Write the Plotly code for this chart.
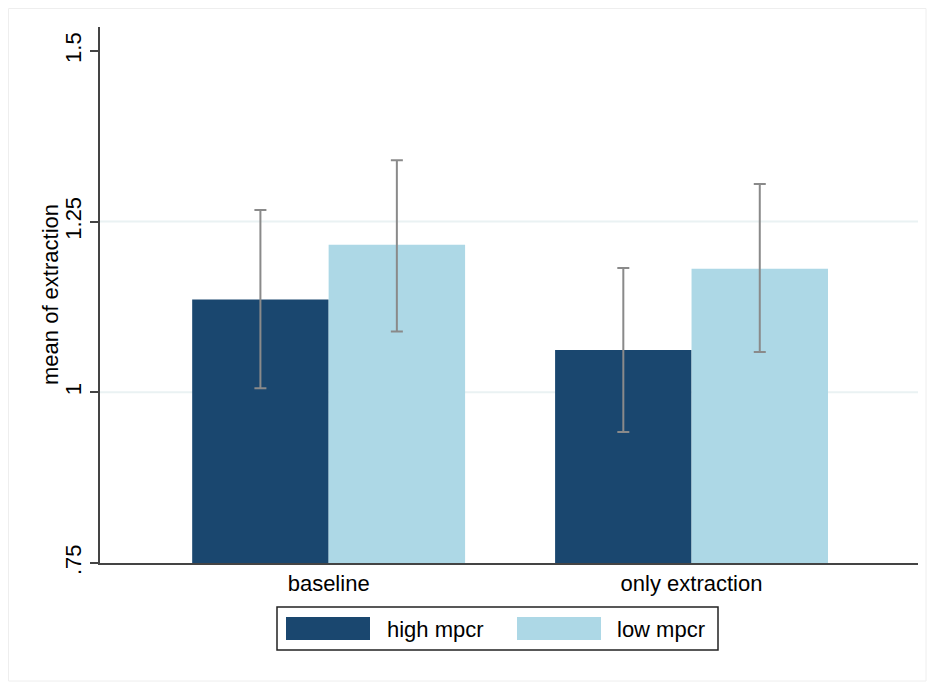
import plotly.graph_objects as go

categories = ["baseline", "only extraction"]
series_names = ["high mpcr", "low mpcr"]
high_mean = [1.136, 1.062]
high_upper = [1.267, 1.182]
high_lower = [1.006, 0.942]
low_mean = [1.216, 1.181]
low_upper = [1.340, 1.305]
low_lower = [1.089, 1.059]
y_tickvals = [0.75, 1.0, 1.25, 1.5]
y_ticktext = [".75", "1", "1.25", "1.5"]
y_title = "mean of extraction"
colors = ["#1a476f", "#add8e6"]

FONT = "Liberation Sans, Arial, sans-serif"
W, H = 935, 684
OFF = 8  # page body margin
L, R, T, B = 92, 25, 19, 129
PW, PH = W - L - R, H - T - B

def px_to_paper(x, y):
    # x, y given in page (screenshot) pixels
    return ((x - OFF) - L) / PW, ((H - B) - (y - OFF)) / PH

fig = go.Figure()
for name, m, up, lo, c in [
    (series_names[0], high_mean, high_upper, high_lower, colors[0]),
    (series_names[1], low_mean, low_upper, low_lower, colors[1]),
]:
    fig.add_trace(go.Bar(
        x=[0, 1], y=m, name=name, marker=dict(color=c, line=dict(width=0)),
        error_y=dict(type="data", symmetric=False,
                     array=[u - v for u, v in zip(up, m)],
                     arrayminus=[v - l for v, l in zip(m, lo)],
                     color="#8a8a8a", thickness=2, width=6),
        showlegend=False,
    ))

shapes = []
for gv in [1.0, 1.25]:
    shapes.append(dict(type="line", xref="paper", yref="y", x0=0, x1=1, y0=gv, y1=gv,
                       line=dict(color="#eaf2f3", width=2), layer="below"))
fx0, fy0 = px_to_paper(8.5, 681)
fx1, fy1 = px_to_paper(926, 8.5)
shapes.append(dict(type="rect", xref="paper", yref="paper", x0=fx0, y0=fy0, x1=fx1, y1=fy1,
                   line=dict(color="#eeeeee", width=1), fillcolor="rgba(0,0,0,0)", layer="below"))
lx0, ly0 = px_to_paper(277, 650)
lx1, ly1 = px_to_paper(718, 607)
shapes.append(dict(type="rect", xref="paper", yref="paper", x0=lx0, y0=ly0, x1=lx1, y1=ly1,
                   line=dict(color="#222222", width=1.5), fillcolor="white"))
annotations = []
swatches = [(286, 370, 385), (517, 601, 615)]
for (sx0, sx1, tx), name, c in zip(swatches, series_names, colors):
    a0, b0 = px_to_paper(sx0, 640)
    a1, b1 = px_to_paper(sx1, 617)
    shapes.append(dict(type="rect", xref="paper", yref="paper", x0=a0, y0=b0, x1=a1, y1=b1,
                       line=dict(width=0), fillcolor=c))
    ax, ay = px_to_paper(tx, 629)
    annotations.append(dict(xref="paper", yref="paper", x=ax, y=ay, text=name, showarrow=False,
                            xanchor="left", yanchor="middle",
                            font=dict(family=FONT, size=22, color="black")))
tx_, ty_ = px_to_paper(50, 295)
annotations.append(dict(xref="paper", yref="paper", x=tx_, y=ty_, text=y_title, showarrow=False,
                        textangle=-90, xanchor="center", yanchor="middle",
                        font=dict(family=FONT, size=22, color="black")))

fig.update_layout(
    width=W, height=H,
    margin=dict(l=L, r=R, t=T, b=B, autoexpand=False),
    paper_bgcolor="white", plot_bgcolor="white",
    barmode="group", bargap=0.248, bargroupgap=0,
    font=dict(family=FONT, size=22, color="black"),
    shapes=shapes, annotations=annotations,
    xaxis=dict(range=[-0.63, 1.624], tickvals=[0, 1], ticktext=categories, automargin=False,
               showgrid=False, zeroline=False, showline=True, linecolor="#444444", linewidth=2,
               ticks="", tickfont=dict(size=22)),
    yaxis=dict(range=[0.75, 1.535], tickvals=y_tickvals, ticktext=y_ticktext, automargin=False,
               tickangle=-90, showgrid=False, zeroline=False, showline=True,
               linecolor="#444444", linewidth=2, ticks="outside", ticklen=8, tickwidth=2,
               tickcolor="#444444", tickfont=dict(size=22)),
)

fig.write_html("out.html")
